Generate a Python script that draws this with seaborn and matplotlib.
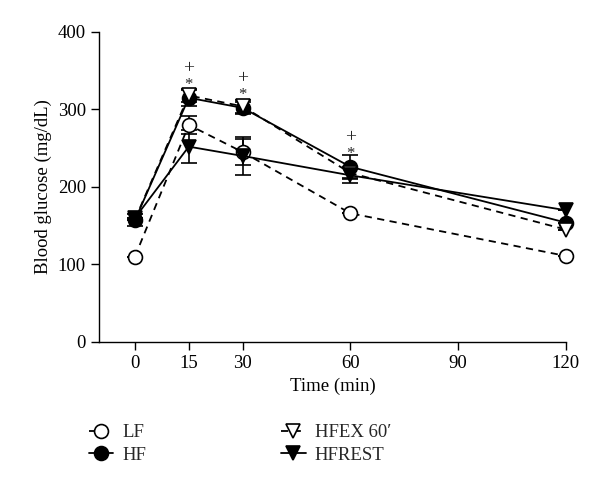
import numpy as np
import pandas as pd
import seaborn as sns
import matplotlib.pyplot as plt

# blood glucose over time, four diet groups
time = [0, 15, 30, 60, 120]
groups = ['LF', 'HF', 'HFEX 60′', 'HFREST']
lf = [110, 280, 245, 166, 111]
hf = [157, 315, 302, 226, 154]
hfex = [158, 318, 304, 218, 145]
hfrest = [160, 252, 240, 215, 170]
lf_se = [0, 12, 17, 0, 0]
hf_se = [8, 10, 8, 15, 0]
hfex_se = [0, 8, 8, 8, 0]
hfrest_se = [0, 21, 25, 10, 0]
sig_time = [15, 30, 60]
sig_y = [315, 302, 226]

sns.set_theme(style='white')
plt.rcParams['font.family'] = ['Liberation Serif', 'DejaVu Serif']

df = pd.DataFrame({'time': time * 4,
                   'glucose': lf + hf + hfex + hfrest,
                   'se': lf_se + hf_se + hfex_se + hfrest_se,
                   'group': np.repeat(groups, len(time))})

fig = plt.figure(figsize=(6, 4.91), dpi=100)
ax = fig.add_axes([0.165, 0.3035, 0.778, 0.6315])

styles = {'LF': ('o', 'white', (4, 3)),
          'HF': ('o', 'black', ''),
          'HFEX 60′': ('v', 'white', (4, 3)),
          'HFREST': ('v', 'black', '')}

for g in groups:
    d = df[df['group'] == g]
    m, fc, dash = styles[g]
    ax.errorbar(d['time'], d['glucose'], yerr=d['se'], fmt='none', ecolor='black',
                elinewidth=1.2, capsize=6, capthick=1.2, zorder=2)
    sns.lineplot(data=d, x='time', y='glucose', ax=ax, color='black', lw=1.3,
                 marker=m, markersize=10, markerfacecolor=fc, markeredgecolor='black',
                 markeredgewidth=1.2, label=g, zorder=3, clip_on=False)
    if dash:
        ax.lines[-1].set_dashes(dash)

# significance marks above each peak
for t, y in zip(sig_time, sig_y):
    ax.text(t, y + 17, '*', ha='center', va='center', fontsize=12)
    ax.text(t, y + 38, '+', ha='center', va='center', fontsize=14)

ax.set_xlim(-10, 120)
ax.set_ylim(0, 400)
ax.set_xticks([0, 15, 30, 60, 90, 120])
ax.set_yticks([0, 100, 200, 300, 400])
ax.tick_params(axis='both', direction='out', length=6, width=1, labelsize=13.5, colors='black', bottom=True, left=True)
for s in ['top', 'right']:
    ax.spines[s].set_visible(False)
for s in ['left', 'bottom']:
    ax.spines[s].set_color('black')
    ax.spines[s].set_linewidth(1)
ax.set_xlabel('Time (min)', fontsize=13.5, color='black')
ax.set_ylabel('Blood glucose (mg/dL)', fontsize=13.5, color='black')

h, l = ax.get_legend_handles_labels()
ax.legend_.remove()
fig.legend(h, l, ncol=2, loc='lower left', bbox_to_anchor=(0.135, 0.04), frameon=False,
           fontsize=13.5, handlelength=1.3, handletextpad=0.5, columnspacing=7.2,
           labelspacing=0.3, borderaxespad=0)

fig.savefig('out.png', dpi=100)
